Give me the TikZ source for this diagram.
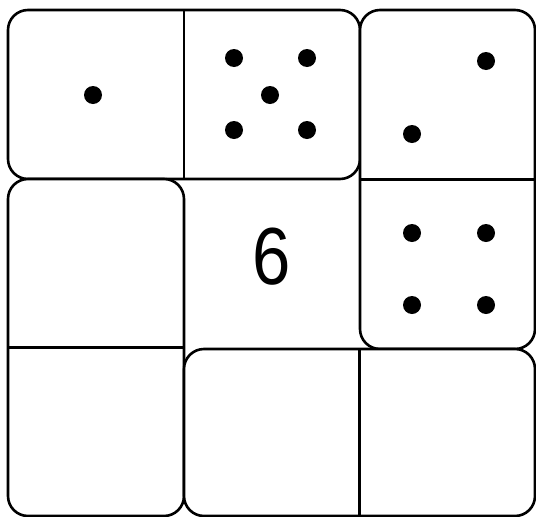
\documentclass[tikz,border=0pt]{standalone}
\usepackage{fontspec}
\usepackage{graphicx}
\setmainfont{Liberation Sans}
\begin{document}
\begin{tikzpicture}[x=1pt,y=-1pt,
  domino/.style={draw=black,line width=2.6pt,rounded corners=20pt,inner sep=0pt,outer sep=0pt,fill=white},
  divider/.style={draw=black,line width=2.4pt},
  pip/.style={circle,fill=black,inner sep=0pt,minimum size=18pt}]
\useasboundingbox (0,0) rectangle (536,517);
\fill[white] (0,0) rectangle (536,517);
% dominoes
\node[domino,minimum width=352pt,minimum height=169pt] (top) at (184,94.5) {};
\node[domino,minimum width=175pt,minimum height=339pt] (right) at (447.5,179.5) {};
\node[domino,minimum width=176pt,minimum height=337pt] (left) at (96,347.5) {};
\node[domino,minimum width=351pt,minimum height=167pt] (bottom) at (359.5,432.5) {};
% dividers
\draw[divider] (top.north) -- (top.south);
\draw[divider] (right.west) -- (right.east);
\draw[divider] (left.west) -- (left.east);
\draw[divider] (bottom.north) -- (bottom.south);
% pips: one
\node[pip] (p1) at (93,95) {};
% five
\node[pip] (p5a) at (234,58) {};
\node[pip] (p5b) at (307,58) {};
\node[pip] (p5c) at (270,95) {};
\node[pip] (p5d) at (234,130) {};
\node[pip] (p5e) at (307,130) {};
% two
\node[pip] (p2a) at (486,61) {};
\node[pip] (p2b) at (412,134) {};
% four
\node[pip] (p4a) at (412,233) {};
\node[pip] (p4b) at (486,233) {};
\node[pip] (p4c) at (412,305) {};
\node[pip] (p4d) at (486,305) {};
% center
\node[inner sep=0pt,font=\fontsize{81}{81}\selectfont] (six) at (272,257) {\scalebox{0.85}[1]{6}};
\end{tikzpicture}
\end{document}
